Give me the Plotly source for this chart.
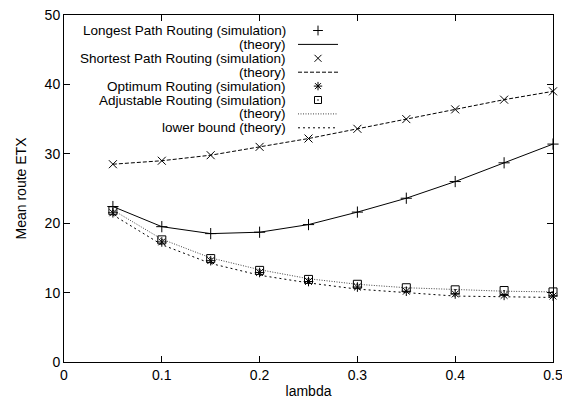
import plotly.graph_objects as go

lam = [0.05, 0.10, 0.15, 0.20, 0.25, 0.30, 0.35, 0.40, 0.45, 0.50]
longest_sim = [22.4, 19.5, 18.5, 18.7, 19.8, 21.6, 23.6, 26.0, 28.7, 31.4]
longest_th = [22.4, 19.5, 18.5, 18.7, 19.8, 21.6, 23.6, 26.0, 28.7, 31.4]
shortest_sim = [28.5, 29.0, 29.8, 31.0, 32.2, 33.6, 35.0, 36.4, 37.8, 39.0]
shortest_th = [28.5, 29.0, 29.8, 31.0, 32.2, 33.6, 35.0, 36.4, 37.8, 39.0]
optimum_sim = [21.5, 17.3, 14.6, 12.9, 11.6, 10.8, 10.2, 9.8, 9.6, 9.5]
adjust_sim = [21.8, 17.6, 14.9, 13.2, 11.9, 11.2, 10.7, 10.4, 10.3, 10.1]
adjust_th = [21.9, 17.7, 15.0, 13.3, 12.0, 11.2, 10.7, 10.4, 10.2, 10.1]
lower_th = [21.2, 16.9, 14.2, 12.5, 11.4, 10.5, 10.0, 9.5, 9.4, 9.3]

legend_labels = [
    "Longest Path Routing (simulation)",
    "(theory)",
    "Shortest Path Routing (simulation)",
    "(theory)",
    "Optimum Routing (simulation)",
    "Adjustable Routing (simulation)",
    "(theory)",
    "lower bound (theory)",
]

FONT = "Liberation Sans, Arial, Helvetica, sans-serif"

styles = [
    ("marker", "cross-thin-open", "black"),
    ("line", "solid", "black"),
    ("marker", "x-thin-open", "black"),
    ("line", "4px,2px", "black"),
    ("marker", "asterisk-open", "black"),
    ("marker", "square-open-dot", "black"),
    ("line", "1px,1.5px", "#444444"),
    ("line", "2px,3px", "black"),
]
series = [longest_sim, longest_th, shortest_sim, shortest_th,
          optimum_sim, adjust_sim, adjust_th, lower_th]

fig = go.Figure()

order = [1, 3, 6, 7, 0, 2, 4, 5]
for i in order:
    kind, st, col = styles[i]
    if kind == "line":
        fig.add_trace(go.Scatter(x=lam, y=series[i], mode="lines",
                                 line=dict(color=col, width=1, dash=st),
                                 cliponaxis=False,
                                 showlegend=False, hoverinfo="skip"))
    else:
        fig.add_trace(go.Scatter(x=lam, y=series[i], mode="markers",
                                 marker=dict(symbol=st, size=8, color=col,
                                             line=dict(color=col, width=1)),
                                 cliponaxis=False,
                                 showlegend=False, hoverinfo="skip"))

row0, drow = 30.5, 13.9
txt_right, s0, s1 = 288, 298, 338
annotations = []
for i, lab in enumerate(legend_labels):
    yy = row0 + drow * i
    kind, st, col = styles[i]
    if kind == "line":
        fig.add_trace(go.Scatter(x=[s0, s1], y=[yy, yy], mode="lines",
                                 xaxis="x2", yaxis="y2",
                                 line=dict(color=col, width=1, dash=st),
                                 showlegend=False, hoverinfo="skip"))
    else:
        fig.add_trace(go.Scatter(x=[(s0 + s1) / 2], y=[yy], mode="markers",
                                 xaxis="x2", yaxis="y2",
                                 marker=dict(symbol=st, size=7, color=col,
                                             line=dict(color=col, width=1)),
                                 showlegend=False, hoverinfo="skip"))
    annotations.append(dict(x=txt_right, y=yy, xref="x2", yref="y2",
                            text=lab, showarrow=False, xanchor="right",
                            yanchor="middle",
                            font=dict(family=FONT, size=13.5, color="black")))

axis_common = dict(showline=True, linecolor="black", linewidth=1, mirror="ticks",
                   ticks="inside", ticklen=6, tickcolor="black", tickwidth=1,
                   showgrid=False, zeroline=False, ticklabeloverflow="allow",
                   tickfont=dict(family=FONT, size=14, color="black"))

fig.update_layout(
    width=562, height=401,
    margin=dict(l=64, r=9, t=15, b=39),
    paper_bgcolor="white", plot_bgcolor="white",
    font=dict(family=FONT, size=14, color="black"),
    xaxis=dict(range=[0, 0.5], tickvals=[0, 0.1, 0.2, 0.3, 0.4, 0.5],
               ticktext=["0", "0.1", "0.2", "0.3", "0.4", "0.5"],
               title=dict(text="lambda", standoff=4,
                          font=dict(family=FONT, size=14)),
               automargin=False, **axis_common),
    yaxis=dict(range=[0, 50], tickvals=[0, 10, 20, 30, 40, 50],
               title=dict(text="Mean route ETX", standoff=14,
                          font=dict(family=FONT, size=14)),
               automargin=False, **axis_common),
    xaxis2=dict(range=[64, 553], overlaying="x", visible=False, fixedrange=True),
    yaxis2=dict(range=[362, 15], overlaying="y", visible=False, fixedrange=True),
    annotations=annotations,
)

fig.write_html(
    "out.html",
    config={"displayModeBar": False, "staticPlot": True},
    post_script="document.body.style.margin='0';document.body.style.overflow='hidden';",
)
